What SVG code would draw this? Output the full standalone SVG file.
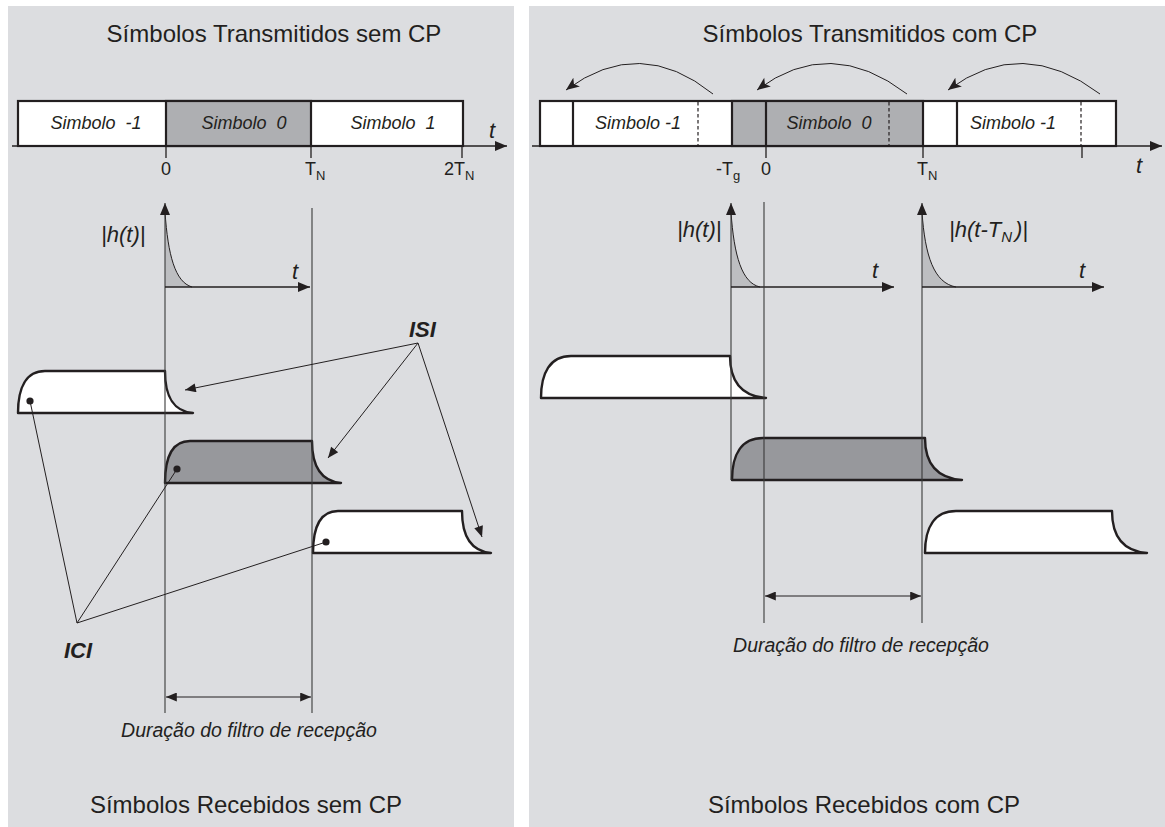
<svg xmlns="http://www.w3.org/2000/svg" width="1165" height="827" viewBox="0 0 1165 827">
<style>
.bg{fill:#dcdde0}
.t{font-family:"Liberation Sans",Arial,Helvetica,sans-serif;fill:#231f20}
.title{font-size:24px;text-anchor:middle}
.sym{font-size:18px;font-style:italic;text-anchor:middle;white-space:pre}
.lab{font-size:18px}
.it{font-style:italic;font-size:22px}
.bi{font-style:italic;font-weight:bold;font-size:22px}
.dur{font-size:19.5px;font-style:italic;text-anchor:middle}
.bar{stroke:#231f20;stroke-width:2.2}
.blk{stroke:#231f20;stroke-width:2.4;stroke-linejoin:round}
.ax{stroke:#231f20;stroke-width:1.3;fill:none}
.thin{stroke:#3a3a3a;stroke-width:1.1;fill:none}
.ln{stroke:#231f20;stroke-width:1;fill:none}
.dash{stroke:#231f20;stroke-width:1.2;stroke-dasharray:3.5 2.5}
.hfill{fill:#bdbec1;stroke:none}
.white{fill:#ffffff}
.g1{fill:#aeafb2}
.g2{fill:#97989c}
</style>
<defs>
<marker id="ah" viewBox="0 0 12 10" refX="12" refY="5" markerWidth="14" markerHeight="10" orient="auto" markerUnits="userSpaceOnUse"><path d="M0,0 L12,5 L0,10 z" fill="#231f20"/></marker>
<marker id="ahs" viewBox="0 0 12 10" refX="12" refY="5" markerWidth="13" markerHeight="9" orient="auto-start-reverse" markerUnits="userSpaceOnUse"><path d="M0,0 L12,5 L0,10 z" fill="#231f20"/></marker>
<marker id="ahb" viewBox="0 0 12 10" refX="12" refY="5" markerWidth="15" markerHeight="11" orient="auto" markerUnits="userSpaceOnUse"><path d="M0,0 L12,5 L0,10 L3,5 z" fill="#231f20"/></marker>
</defs>

<g id="panels">
<rect class="bg" x="8" y="6" width="506" height="821"/>
<rect class="bg" x="529" y="6" width="636" height="821"/>
</g>

<!-- LEFT PANEL -->
<g id="left-title"><text class="t title" x="274" y="42">Símbolos Transmitidos sem CP</text></g>

<g id="left-bar">
<rect class="bar white" x="18" y="101" width="445" height="45"/>
<rect class="bar g1" x="166" y="101" width="145" height="45"/>
<text class="t sym" x="96" y="129">Simbolo  -1</text>
<text class="t sym" x="244" y="129">Simbolo  0</text>
<text class="t sym" x="393" y="129">Simbolo  1</text>
</g>

<g id="left-axis">
<line class="ax" x1="12" y1="146" x2="507" y2="146" marker-end="url(#ah)"/>
<line class="ax" x1="166" y1="146" x2="166" y2="158"/>
<line class="ax" x1="311" y1="146" x2="311" y2="158"/>
<line class="ax" x1="462" y1="146" x2="462" y2="158"/>
<text class="t lab" x="166" y="175" text-anchor="middle">0</text>
<text class="t lab" x="305" y="175">T<tspan font-size="13" dy="5">N</tspan></text>
<text class="t lab" x="444" y="175">2T<tspan font-size="13" dy="5">N</tspan></text>
<text class="t it" x="489" y="138">t</text>
</g>

<g id="left-blocks">
<path class="blk white" d="M18 413 C18 388 26 371 45 371 L165 371 C165 395 172 411 193 413 Z"/>
<path class="blk g2" d="M165 483 C165 458 172 441 190 441 L312 441 C312 465 320 481 341 483 Z"/>
<path class="blk white" d="M313 553 C313 528 320 511 338 511 L462 511 C462 535 470 551 491 553 Z"/>
</g>

<g id="left-h">
<path class="hfill" d="M165 287 L165 212 C168 255 175 282 192 287 Z"/>
<path class="ln" d="M165 212 C168 255 175 282 192 287"/>
<line class="thin" x1="165" y1="713" x2="165" y2="203" marker-end="url(#ah)"/>
<line class="ax" x1="165" y1="287" x2="310" y2="287" marker-end="url(#ah)"/>
<line class="thin" x1="312" y1="208" x2="312" y2="713"/>
<text class="t it" x="101" y="242">|h(t)|</text>
<text class="t it" x="292" y="279">t</text>
</g>

<g id="left-isi-ici">
<text class="t bi" x="409" y="337">ISI</text>
<line class="ln" x1="418" y1="343" x2="185" y2="390" marker-end="url(#ahs)"/>
<line class="ln" x1="418" y1="343" x2="328" y2="458" marker-end="url(#ahs)"/>
<line class="ln" x1="418" y1="343" x2="482" y2="537" marker-end="url(#ahs)"/>
<text class="t bi" x="64" y="658">ICI</text>
<line class="ln" x1="77" y1="623" x2="30" y2="401"/>
<line class="ln" x1="77" y1="623" x2="177" y2="469"/>
<line class="ln" x1="77" y1="623" x2="326" y2="542"/>
<circle cx="30" cy="401" r="3.6" fill="#231f20"/>
<circle cx="177" cy="469" r="3.6" fill="#231f20"/>
<circle cx="326" cy="542" r="3.6" fill="#231f20"/>
</g>

<g id="left-duration">
<line class="ln" x1="166" y1="697" x2="311" y2="697" stroke-width="1.3" marker-start="url(#ahs)" marker-end="url(#ahs)"/>
<text class="t dur" x="249" y="737">Duração do filtro de recepção</text>
</g>

<g id="left-bottom"><text class="t title" x="246" y="813">Símbolos Recebidos sem CP</text></g>

<!-- RIGHT PANEL -->
<g id="right-title"><text class="t title" x="870" y="42">Símbolos Transmitidos com CP</text></g>

<g id="right-bar">
<rect class="bar white" x="540" y="101" width="576" height="45"/>
<rect class="bar g1" x="732" y="101" width="191" height="45"/>
<line class="bar" x1="573" y1="101" x2="573" y2="146"/>
<line class="bar" x1="766" y1="101" x2="766" y2="146"/>
<line class="bar" x1="957" y1="101" x2="957" y2="146"/>
<line class="dash" x1="698" y1="102" x2="698" y2="145"/>
<line class="dash" x1="889" y1="102" x2="889" y2="145"/>
<line class="dash" x1="1081" y1="102" x2="1081" y2="145"/>
<text class="t sym" x="638" y="129">Simbolo -1</text>
<text class="t sym" x="829" y="129">Simbolo  0</text>
<text class="t sym" x="1013" y="129">Simbolo -1</text>
</g>

<g id="right-arcs">
<path class="ln" d="M713 94 Q640 35 566 90" marker-end="url(#ahb)"/>
<path class="ln" d="M907 94 Q830 35 757 90" marker-end="url(#ahb)"/>
<path class="ln" d="M1100 94 Q1022 35 948 90" marker-end="url(#ahb)"/>
</g>

<g id="right-axis">
<line class="ax" x1="532" y1="146" x2="1162" y2="146" marker-end="url(#ah)"/>
<line class="ax" x1="766" y1="146" x2="766" y2="158"/>
<line class="ax" x1="923" y1="146" x2="923" y2="158"/>
<line class="ax" x1="1082" y1="146" x2="1082" y2="158"/>
<text class="t lab" x="716" y="175">-T<tspan font-size="13" dy="5">g</tspan></text>
<text class="t lab" x="766" y="175" text-anchor="middle">0</text>
<text class="t lab" x="917" y="175">T<tspan font-size="13" dy="5">N</tspan></text>
<text class="t it" x="1136" y="173">t</text>
</g>

<g id="right-blocks">
<path class="blk white" d="M541 398 C541 373 550 356 571 356 L730 356 C730 380 740 396 766 398 Z"/>
<path class="blk g2" d="M732 480 C732 455 741 438 763 438 L925 438 C925 462 935 478 962 480 Z"/>
<path class="blk white" d="M925 553 C925 528 934 511 956 511 L1112 511 C1112 535 1122 551 1147 553 Z"/>
</g>

<g id="right-h">
<path class="hfill" d="M731 287 L731 212 C734 256 742 283 760 287 Z"/>
<path class="ln" d="M731 212 C734 256 742 283 760 287"/>
<path class="hfill" d="M922 287 L922 212 C925 256 934 283 956 287 Z"/>
<path class="ln" d="M922 212 C925 256 934 283 956 287"/>
<line class="thin" x1="731" y1="480" x2="731" y2="203" marker-end="url(#ah)"/>
<line class="ax" x1="731" y1="287" x2="894" y2="287" marker-end="url(#ah)"/>
<line class="thin" x1="922" y1="623" x2="922" y2="203" marker-end="url(#ah)"/>
<line class="ax" x1="922" y1="287" x2="1104" y2="287" marker-end="url(#ah)"/>
<line class="thin" x1="764" y1="202" x2="764" y2="623"/>
<text class="t it" x="677" y="237">|h(t)|</text>
<text class="t it" x="949" y="237">|h(t-T<tspan font-size="15" dy="5">N</tspan><tspan dx="3" dy="-5">)|</tspan></text>
<text class="t it" x="872" y="278">t</text>
<text class="t it" x="1079" y="278">t</text>
</g>

<g id="right-duration">
<line class="ln" x1="765" y1="596" x2="921" y2="596" stroke-width="1.3" marker-start="url(#ahs)" marker-end="url(#ahs)"/>
<text class="t dur" x="861" y="652">Duração do filtro de recepção</text>
</g>

<g id="right-bottom"><text class="t title" x="864" y="813">Símbolos Recebidos com CP</text></g>
</svg>
